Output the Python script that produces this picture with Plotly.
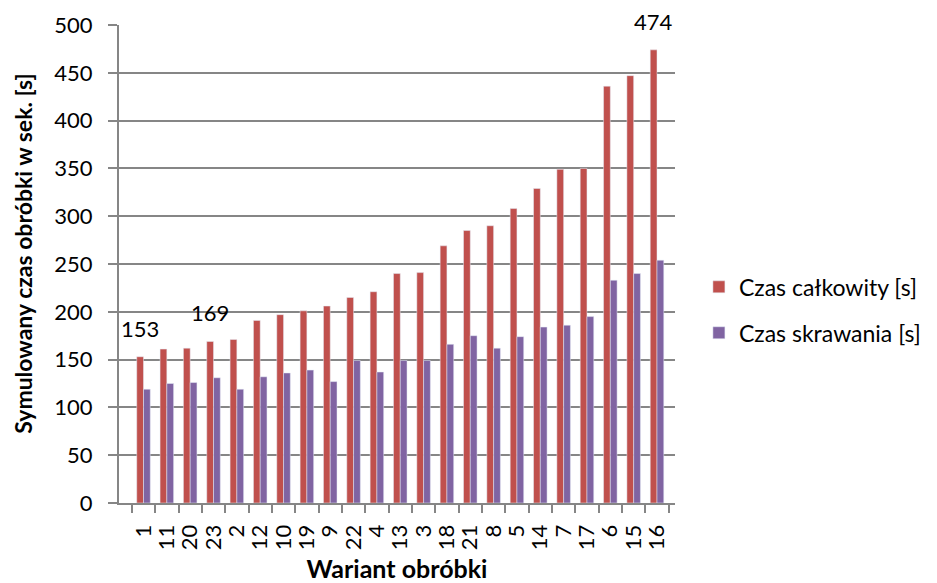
import plotly.graph_objects as go

categories = ["1", "11", "20", "23", "2", "12", "10", "19", "9", "22", "4", "13",
              "3", "18", "21", "8", "5", "14", "7", "17", "6", "15", "16"]
czas_calkowity = [153, 161, 162, 169, 171, 191, 197, 201, 206, 215, 221, 240,
                  241, 269, 285, 290, 308, 329, 349, 350, 436, 447, 474]
czas_skrawania = [119, 125, 126, 131, 119, 132, 136, 139, 127, 149, 137, 149,
                  149, 166, 175, 162, 174, 184, 186, 195, 233, 240, 254]
labeled = ["1", "23", "16"]
y_ticks = [0, 50, 100, 150, 200, 250, 300, 350, 400, 450, 500]

FONT = "Lato, 'Open Sans', sans-serif"
GRID = "#868686"

fig = go.Figure()
fig.add_trace(go.Bar(x=categories, y=czas_calkowity, name="Czas całkowity [s]",
                     marker_color="#C0504D", legendgroup="a"))
fig.add_trace(go.Bar(x=categories, y=czas_skrawania, name="Czas skrawania [s]",
                     marker_color="#8064A2", legendgroup="b"))

for i, (c, v) in enumerate(zip(categories, czas_calkowity)):
    if c in labeled:
        fig.add_annotation(x=i, y=v, text=str(v), showarrow=False,
                           xref="x", yref="y", yanchor="bottom",
                           xshift=-3.5, yshift=13,
                           font=dict(family=FONT, size=22, color="#000000"))

fig.add_annotation(text="<b>Symulowany czas obróbki w sek. [s]</b>", textangle=-90,
                   xref="paper", yref="paper", x=-0.173, y=0.521,
                   xanchor="center", yanchor="middle", showarrow=False,
                   font=dict(family=FONT, size=23, color="#000000"))

fig.update_layout(
    width=929, height=575,
    margin=dict(l=111, r=262, t=17, b=80, autoexpand=False),
    paper_bgcolor="white", plot_bgcolor="white",
    barmode="group", bargap=0.42, bargroupgap=0,
    font=dict(family=FONT, size=22, color="#000000"),
    showlegend=True,
    legend=dict(x=1.043, y=0.404, xanchor="left", yanchor="middle",
                font=dict(family=FONT, size=23, color="#000000"),
                tracegroupgap=13, bgcolor="rgba(0,0,0,0)"),
    xaxis=dict(
        type="category", tickmode="linear", dtick=1, tick0=0,
        tickangle=-90, tickson="boundaries",
        ticks="outside", ticklen=8, tickcolor=GRID, tickwidth=2,
        showline=True, linecolor=GRID, linewidth=2, showgrid=False,
        tickfont=dict(family=FONT, size=22), ticklabelstandoff=11,
        automargin=False,
        title=dict(text="<b>Wariant obróbki</b>", font=dict(family=FONT, size=25), standoff=13),
    ),
    yaxis=dict(
        range=[0, 500], tickvals=y_ticks,
        ticks="outside", ticklen=9, tickcolor=GRID, tickwidth=2,
        showline=True, linecolor=GRID, linewidth=2,
        showgrid=True, gridcolor=GRID, gridwidth=2, zeroline=False,
        tickfont=dict(family=FONT, size=22), ticklabelstandoff=11,
        automargin=False,
    ),
)

fig.write_html("out.html")
